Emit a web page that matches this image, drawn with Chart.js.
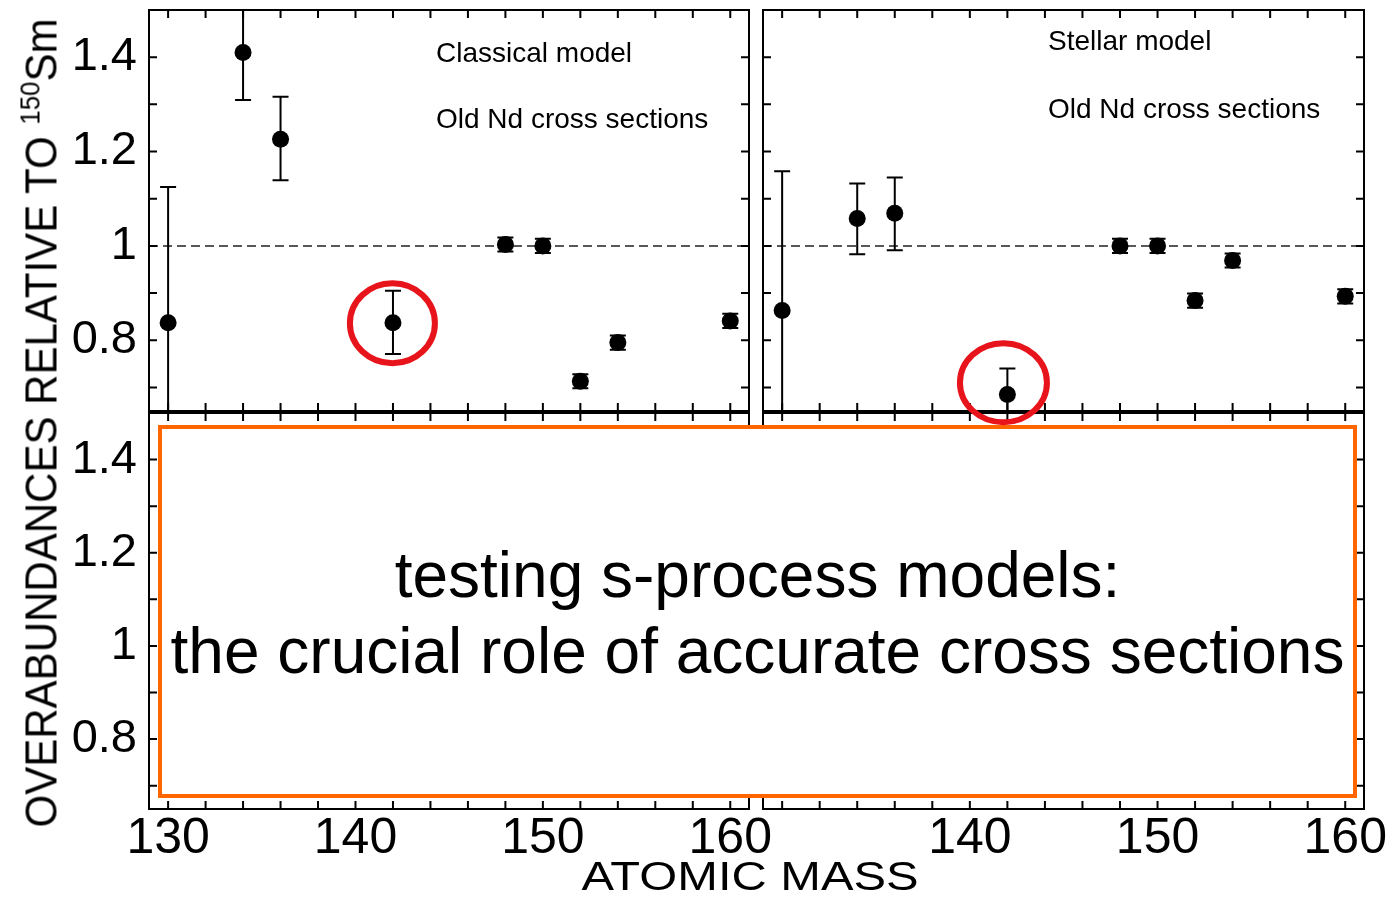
<!DOCTYPE html>
<html>
<head>
<meta charset="utf-8">
<title>Overabundances relative to 150Sm</title>
<script src="https://cdn.jsdelivr.net/npm/chart.js@4.4.0/dist/chart.umd.min.js"></script>
<style>
  html, body { margin: 0; padding: 0; background: #fff; overflow: hidden; }
  #page { position: relative; width: 1388px; height: 899px; font-family: "Liberation Sans", Arial, Helvetica, sans-serif; color: #000; }
  canvas { position: absolute; }
  #cover { position: absolute; left: 158px; top: 425px; width: 1199px; height: 373px; box-sizing: border-box;
           border: 4px solid #ff6600; background: #fff; }
  #cover div { position: absolute; left: 0; right: 0; top: 108px; text-align: center; font-size: 64px; line-height: 76px; }
  #yTitle { position: absolute; left: 36px; top: 423px; white-space: nowrap; font-size: 44px; line-height: 44px;
            transform: translate(-50%, -50%) rotate(-90deg) scaleX(0.955); }
  #yTitle span { font-size: 27px; vertical-align: 17px; }
  #xTitle { position: absolute; left: 750px; top: 856px; white-space: nowrap; font-size: 40px; line-height: 40px;
            transform: translateX(-50%) scaleX(1.22); }
</style>
</head>
<body>
<div id="page">
  <canvas id="bottomLeft" width="780" height="499" style="left:0;top:400px"></canvas>
  <canvas id="bottomRight" width="660" height="499" style="left:750px;top:400px"></canvas>
  <div id="cover"><div>testing s-process models:<br>the crucial role of accurate cross sections</div></div>
  <canvas id="topLeft" width="760" height="440" style="left:0;top:0"></canvas>
  <canvas id="topRight" width="660" height="440" style="left:750px;top:0"></canvas>
  <div id="yTitle">OVERABUNDANCES RELATIVE TO <span>150</span>Sm</div>
  <div id="xTitle">ATOMIC MASS</div>
</div>
<script>
// atomic masses of the s-only isotopes
const masses = [130, 134, 136, 142, 148, 150, 152, 154, 160];

// classical model, old Nd cross sections
const classicalRatio = [0.837, 1.41, 1.226, 0.837, 1.003, 1.0, 0.713, 0.795, 0.841];
const classicalLow   = [0.55, 1.309, 1.139, 0.771, 0.988, 0.985, 0.698, 0.780, 0.826];
const classicalHigh  = [1.125, 1.51, 1.316, 0.905, 1.018, 1.015, 0.728, 0.810, 0.856];

// stellar model, old Nd cross sections
const stellarRatio = [0.863, 1.058, 1.069, 0.685, 1.0, 1.0, 0.884, 0.969, 0.893];
const stellarLow   = [0.57, 0.982, 0.991, 0.63, 0.985, 0.985, 0.869, 0.954, 0.878];
const stellarHigh  = [1.158, 1.132, 1.145, 0.740, 1.015, 1.015, 0.899, 0.984, 0.908];

const massTicks = [130, 140, 150, 160];
const ratioTicks = [0.8, 1, 1.2, 1.4];
const unityLevel = 1;

const FONT = "'Liberation Sans', Arial, Helvetica, sans-serif";

// error bars, reference line, boxed frame with inward ticks, mass labels, notes and red rings
function panelDecor(cfg) {
  return {
    id: 'panelDecor',
    beforeDatasetsDraw(chart) {
      const { ctx, chartArea: a, scales: { x, y } } = chart;
      ctx.save();
      ctx.beginPath();
      ctx.rect(a.left, a.top, a.right - a.left, a.bottom - a.top);
      ctx.clip();
      if (cfg.refLine) {
        const py = y.getPixelForValue(unityLevel);
        ctx.strokeStyle = '#222';
        ctx.lineWidth = 1.5;
        ctx.setLineDash([9, 5]);
        ctx.beginPath();
        ctx.moveTo(a.left, py);
        ctx.lineTo(a.right, py);
        ctx.stroke();
        ctx.setLineDash([]);
      }
      if (cfg.low) {
        ctx.strokeStyle = '#000';
        ctx.lineWidth = 2;
        masses.forEach((m, i) => {
          const px = x.getPixelForValue(m);
          const lo = y.getPixelForValue(cfg.low[i]);
          const hi = y.getPixelForValue(cfg.high[i]);
          ctx.beginPath();
          ctx.moveTo(px, lo); ctx.lineTo(px, hi);
          ctx.moveTo(px - 8, lo); ctx.lineTo(px + 8, lo);
          ctx.moveTo(px - 8, hi); ctx.lineTo(px + 8, hi);
          ctx.stroke();
        });
      }
      ctx.restore();
    },
    afterDraw(chart) {
      const { ctx, chartArea: a, scales: { x, y } } = chart;
      ctx.save();
      ctx.strokeStyle = '#000';
      ctx.lineWidth = 2;
      ctx.strokeRect(a.left, a.top, a.right - a.left, a.bottom - a.top);
      ctx.beginPath();
      x.ticks.forEach(t => {
        const px = x.getPixelForValue(t.value);
        if (px <= a.left + 1 || px >= a.right - 1) return;
        ctx.moveTo(px, a.bottom); ctx.lineTo(px, a.bottom - 8);
        ctx.moveTo(px, a.top); ctx.lineTo(px, a.top + 8);
      });
      y.ticks.forEach(t => {
        const py = y.getPixelForValue(t.value);
        if (py <= a.top + 1 || py >= a.bottom - 1) return;
        ctx.moveTo(a.left, py); ctx.lineTo(a.left + 8, py);
        ctx.moveTo(a.right, py); ctx.lineTo(a.right - 8, py);
      });
      ctx.stroke();

      ctx.fillStyle = '#000';
      if (cfg.xLabels) {
        ctx.font = '50px ' + FONT;
        ctx.textAlign = 'center';
        ctx.textBaseline = 'alphabetic';
        x.ticks.forEach(t => {
          const v = Math.round(t.value);
          if (cfg.xLabels.includes(v)) ctx.fillText(String(v), x.getPixelForValue(t.value), a.bottom + 44);
        });
      }

      ctx.textAlign = 'left';
      ctx.font = '28px ' + FONT;
      (cfg.notes || []).forEach(n => ctx.fillText(n.text, a.left + n.dx, n.y));

      ctx.strokeStyle = '#e8141b';
      ctx.lineWidth = 6;
      (cfg.rings || []).forEach(r => {
        ctx.beginPath();
        ctx.ellipse(x.getPixelForValue(r.x), y.getPixelForValue(r.y), r.rx, r.ry, 0, 0, Math.PI * 2);
        ctx.stroke();
      });
      ctx.restore();
    }
  };
}

function makePanel(id, cfg) {
  const datasets = cfg.values ? [{
    data: masses.map((m, i) => ({ x: m, y: cfg.values[i] })),
    pointRadius: 8.5,
    pointBackgroundColor: '#000',
    pointBorderWidth: 0,
    showLine: false
  }] : [];
  return new Chart(document.getElementById(id), {
    type: 'scatter',
    data: { datasets },
    options: {
      responsive: false,
      animation: false,
      events: [],
      layout: { padding: cfg.padding },
      plugins: { legend: { display: false }, tooltip: { enabled: false } },
      scales: {
        x: {
          // range is not a whole number of steps, so ticks fall on even masses
          type: 'linear', min: 128.98, max: 161,
          grid: { display: false, drawTicks: false },
          border: { display: false },
          ticks: { display: false, stepSize: 2, includeBounds: false, autoSkip: false, maxRotation: 0 },
          afterFit: s => { s.height = cfg.xHeight; s.paddingLeft = 0; s.paddingRight = 0; }
        },
        y: {
          type: 'linear', min: 0.65, max: 1.5,
          grid: { display: false, drawTicks: false },
          border: { display: false },
          ticks: {
            display: !!cfg.yLabels, stepSize: 0.1, includeBounds: false, autoSkip: false,
            padding: 12, color: '#000', font: { family: FONT, size: 47, lineHeight: 1 },
            callback: v => {
              const r = Math.round(v * 10) / 10;
              return ratioTicks.includes(r) ? (r === 1 ? '1' : r.toFixed(1)) : '';
            }
          },
          afterFit: s => { s.width = cfg.yWidth; s.paddingTop = 0; s.paddingBottom = 0; }
        }
      }
    },
    plugins: [panelDecor(cfg)]
  });
}

makePanel('bottomLeft', {
  padding: { top: 13, right: 31, left: 0, bottom: 0 },
  yWidth: 149, xHeight: 90, yLabels: true, xLabels: massTicks
});
makePanel('bottomRight', {
  padding: { top: 13, right: 46, left: 0, bottom: 0 },
  yWidth: 13, xHeight: 90, xLabels: massTicks.filter(m => m !== 130)
});
makePanel('topLeft', {
  padding: { top: 10, right: 11, left: 0, bottom: 0 },
  yWidth: 149, xHeight: 29, yLabels: true,
  values: classicalRatio, low: classicalLow, high: classicalHigh, refLine: true,
  notes: [{ text: 'Classical model', dx: 287, y: 62 }, { text: 'Old Nd cross sections', dx: 287, y: 128 }],
  rings: [{ x: 141.97, y: 0.836, rx: 42.5, ry: 40 }]
});
makePanel('topRight', {
  padding: { top: 10, right: 46, left: 0, bottom: 0 },
  yWidth: 13, xHeight: 29,
  values: stellarRatio, low: stellarLow, high: stellarHigh, refLine: true,
  notes: [{ text: 'Stellar model', dx: 285, y: 50 }, { text: 'Old Nd cross sections', dx: 285, y: 118 }],
  rings: [{ x: 141.79, y: 0.71, rx: 43.5, ry: 39.5 }]
});
</script>
</body>
</html>
